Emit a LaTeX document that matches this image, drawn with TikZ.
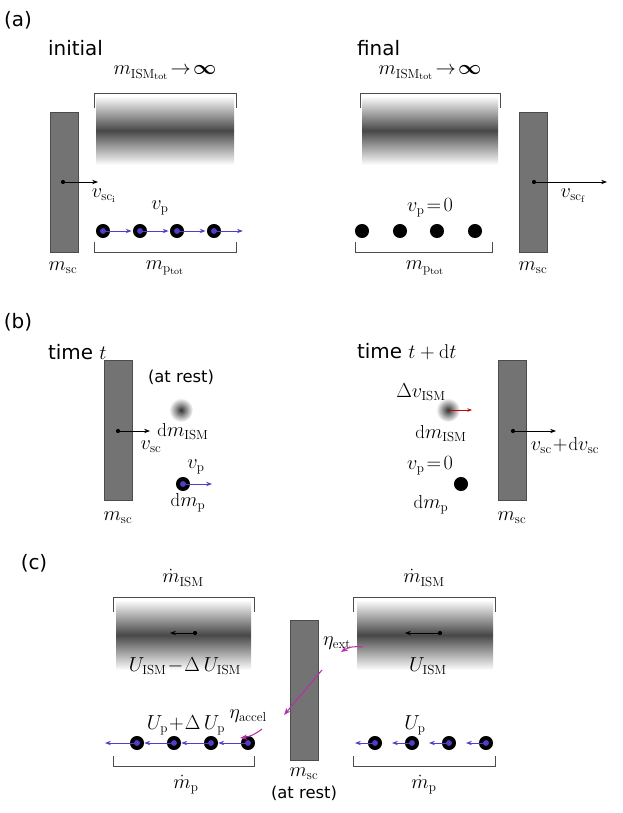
\documentclass[tikz,border=0pt]{standalone}
\usepackage{amsmath}
\usepackage{fontspec}
\newfontfamily\labfont{DejaVu Sans}
\usetikzlibrary{arrows.meta,positioning}
\definecolor{pblue}{RGB}{85,60,200}
\definecolor{pmag}{RGB}{180,50,170}
\tikzset{
  scbox/.style={draw=black!70, fill=black!55, line width=0.6pt},
  cloud/.style={top color=white, bottom color=white, middle color=black!72},
  part/.style={circle, fill=black, inner sep=0pt, minimum size=12pt},
  pdot/.style={circle, fill=pblue, inner sep=0pt, minimum size=5pt},
  varr/.style={-{Stealth[length=5pt]}, line width=0.7pt},
  barr/.style={-{Stealth[length=5pt]}, pblue, line width=0.8pt},
  marr/.style={-{Stealth[length=6pt]}, pmag, line width=0.9pt},
  brack/.style={draw=black!70, line width=0.6pt},
  lab/.style={font=\labfont\fontsize{17}{20}\selectfont},
  slab/.style={font=\labfont\fontsize{14}{16}\selectfont},
  mlab/.style={font=\fontsize{16}{18}\selectfont, inner sep=1pt}
}
\begin{document}
\begin{tikzpicture}[x=0.03cm, y=-0.03cm]
    \useasboundingbox (0,0) rectangle (623,813);

    % ---------- (a)
    \node[lab] (la) at (18,20) {(a)};
    \node[lab, anchor=west] (ini) at (44,48) {initial};
    \node[lab, anchor=west] (fin) at (353,48) {final};

    \shade[cloud] (96,96) rectangle (234,165);
    \draw[brack] (94,108) -- (94,93) -- (236,93) -- (236,108);
    \node[mlab] (mia) at (165,73) {$m_{\mathrm{ISM}_{\mathrm{tot}}}\!\rightarrow\!\boldsymbol{\infty}$};
    \draw[scbox] (50,112) rectangle (78,252);
    \node[mlab] (msca) at (63,268) {$m_{\mathrm{sc}}$};
    \fill (63,182) circle (1.8pt) coordinate (sca);
    \coordinate (scae) at (98,182);
    \draw[varr] (sca) -- (scae);
    \node[mlab] at (104,196) {$v_{\mathrm{sc_i}}$};
    \foreach \x/\n in {103/1,140/2,177/3,214/4} {
        \node[part] (pa\n) at (\x,231) {};
        \node[pdot] at (pa\n) {};
    }
    \coordinate (pa5) at (244,231);
    \foreach \i/\j in {1/2,2/3,3/4,4/5} \draw[barr] (pa\i.center) -- ([xshift=-1pt]pa\j.west);
    \node[mlab] (vpa) at (160,208) {$v_{\mathrm{p}}$};
    \draw[brack] (94,242) -- (94,252) -- (236,252) -- (236,242);
    \node[mlab] (mpa) at (165,268) {$m_{\mathrm{p_{tot}}}$};

    \shade[cloud] (362,96) rectangle (498,165);
    \draw[brack] (360,108) -- (360,93) -- (500,93) -- (500,108);
    \node[mlab] (mib) at (430,73) {$m_{\mathrm{ISM}_{\mathrm{tot}}}\!\rightarrow\!\boldsymbol{\infty}$};
    \draw[scbox] (519,112) rectangle (547,252);
    \node[mlab] (mscb) at (533,268) {$m_{\mathrm{sc}}$};
    \fill (534,182) circle (1.8pt) coordinate (scb);
    \coordinate (scbe) at (607,182);
    \draw[varr] (scb) -- (scbe);
    \node[mlab] at (573,196) {$v_{\mathrm{sc_f}}$};
    \foreach \x/\n in {362/1,400/2,437/3,475/4} \node[part] (pb\n) at (\x,231) {};
    \node[mlab] (vpb) at (430,208) {$v_{\mathrm{p}}\!=\!0$};
    \draw[brack] (355,242) -- (355,252) -- (492,252) -- (492,242);
    \node[mlab] (mpb) at (425,268) {$m_{\mathrm{p_{tot}}}$};

    % ---------- (b)
    \node[lab] (lb) at (18,322) {(b)};
    \node[lab, anchor=west] (tt) at (44,352) {time $t$};
    \node[lab, anchor=west] (tdt) at (353,352) {time $t+\mathrm{d}t$};

    \draw[scbox] (104,360) rectangle (132,500);
    \node[mlab] at (118,518) {$m_{\mathrm{sc}}$};
    \fill (118,431) circle (1.8pt) coordinate (scc);
    \coordinate (scce) at (150,431);
    \draw[varr] (scc) -- (scce);
    \node[mlab] at (151,447) {$v_{\mathrm{sc}}$};
    \shade[inner color=black!80, outer color=white] (181,410) circle (12);
    \node[slab] (rest) at (181,377) {(at rest)};
    \node[mlab] at (183,432) {$\mathrm{d}m_{\mathrm{ISM}}$};
    \node[part] (pc) at (183,484) {};
    \node[pdot] at (pc) {};
    \coordinate (pce) at (212,484);
    \draw[barr] (pc.center) -- (pce);
    \node[mlab] at (196,467) {$v_{\mathrm{p}}$};
    \node[mlab] at (188,503) {$\mathrm{d}m_{\mathrm{p}}$};

    \draw[scbox] (498,360) rectangle (526,500);
    \node[mlab] at (512,518) {$m_{\mathrm{sc}}$};
    \fill (513,431) circle (1.8pt) coordinate (scd);
    \coordinate (scde) at (556,431);
    \draw[varr] (scd) -- (scde);
    \node[mlab] at (565,446) {$v_{\mathrm{sc}}\!+\!\mathrm{d}v_{\mathrm{sc}}$};
    \shade[inner color=black!80, outer color=white] (448,410) circle (12);
    \coordinate (blob) at (450,410);
    \coordinate (blobe) at (472,410);
    \draw[-{Stealth[length=4pt]}, red!80!black, line width=0.7pt] (blob) -- (blobe);
    \node[mlab] at (421,392) {$\Delta v_{\mathrm{ISM}}$};
    \node[mlab] at (441,434) {$\mathrm{d}m_{\mathrm{ISM}}$};
    \node[part] (pd) at (461,484) {};
    \node[mlab] at (430,466) {$v_{\mathrm{p}}\!=\!0$};
    \node[mlab] at (431,505) {$\mathrm{d}m_{\mathrm{p}}$};

    % ---------- (c)
    \node[lab] (lc) at (34,563) {(c)};

    \shade[cloud] (116,600) rectangle (251,670);
    \draw[brack] (113,612) -- (113,597) -- (254,597) -- (254,612);
    \node[mlab] at (183,578) {$\dot m_{\mathrm{ISM}}$};
    \fill (195,633) circle (1.8pt) coordinate (ua);
    \coordinate (uae) at (170,633);
    \draw[varr] (ua) -- (uae);
    \node[mlab] at (185,666) {$U_{\mathrm{ISM}}\!-\!\Delta\, U_{\mathrm{ISM}}$};

    \shade[cloud] (357,600) rectangle (493,670);
    \draw[brack] (353,612) -- (353,597) -- (495,597) -- (495,612);
    \node[mlab] at (424,578) {$\dot m_{\mathrm{ISM}}$};
    \fill (440,633) circle (1.8pt) coordinate (ub);
    \coordinate (ube) at (405,633);
    \draw[varr] (ub) -- (ube);
    \node[mlab] at (428,666) {$U_{\mathrm{ISM}}$};

    \draw[scbox] (290,620) rectangle (318,760);
    \node[mlab] at (304,774) {$m_{\mathrm{sc}}$};
    \node[slab] at (304,793) {(at rest)};

    \coordinate (pe0) at (105,743);
    \foreach \x/\n in {137/1,174/2,211/3,248/4} {
        \node[part] (pe\n) at (\x,743) {};
        \node[pdot] at (pe\n) {};
    }
    \foreach \i/\j in {1/0,2/1,3/2,4/3} \draw[barr] (pe\i.center) -- (pe\j.east);
    \node[mlab] at (186,725) {$U_{\mathrm{p}}\!+\!\Delta\, U_{\mathrm{p}}$};
    \draw[brack] (113,756) -- (113,766) -- (254,766) -- (254,756);
    \node[mlab] at (186,785) {$\dot m_{\mathrm{p}}$};

    \foreach \x/\n in {375/1,412/2,449/3,486/4} {
        \node[part] (pf\n) at (\x,743) {};
        \node[pdot] at (pf\n) {};
        \coordinate (pf\n e) at (\x-20,743);
        \draw[barr] (pf\n.center) -- (pf\n e);
    }
    \node[mlab] at (415,725) {$U_{\mathrm{p}}$};
    \draw[brack] (353,756) -- (353,766) -- (495,766) -- (495,756);
    \node[mlab] at (424,785) {$\dot m_{\mathrm{p}}$};

    % energy flow
    \node[mlab] (eext) at (337,643) {$\eta_{\mathrm{ext}}$};
    \node[mlab] (eacc) at (248,716) {$\eta_{\mathrm{accel}}$};
    \coordinate (m1) at (363,647);
    \coordinate (m2) at (322,670);
    \coordinate (m3) at (284,715);
    \coordinate (m4) at (262,729);
    \coordinate (m5) at (240,738);
    \draw[marr] (m1) to[bend right=20] (341,652);
    \draw[marr] (m2) -- (m3);
    \draw[marr] (m4) to[bend left=15] (m5);
\end{tikzpicture}
\end{document}
